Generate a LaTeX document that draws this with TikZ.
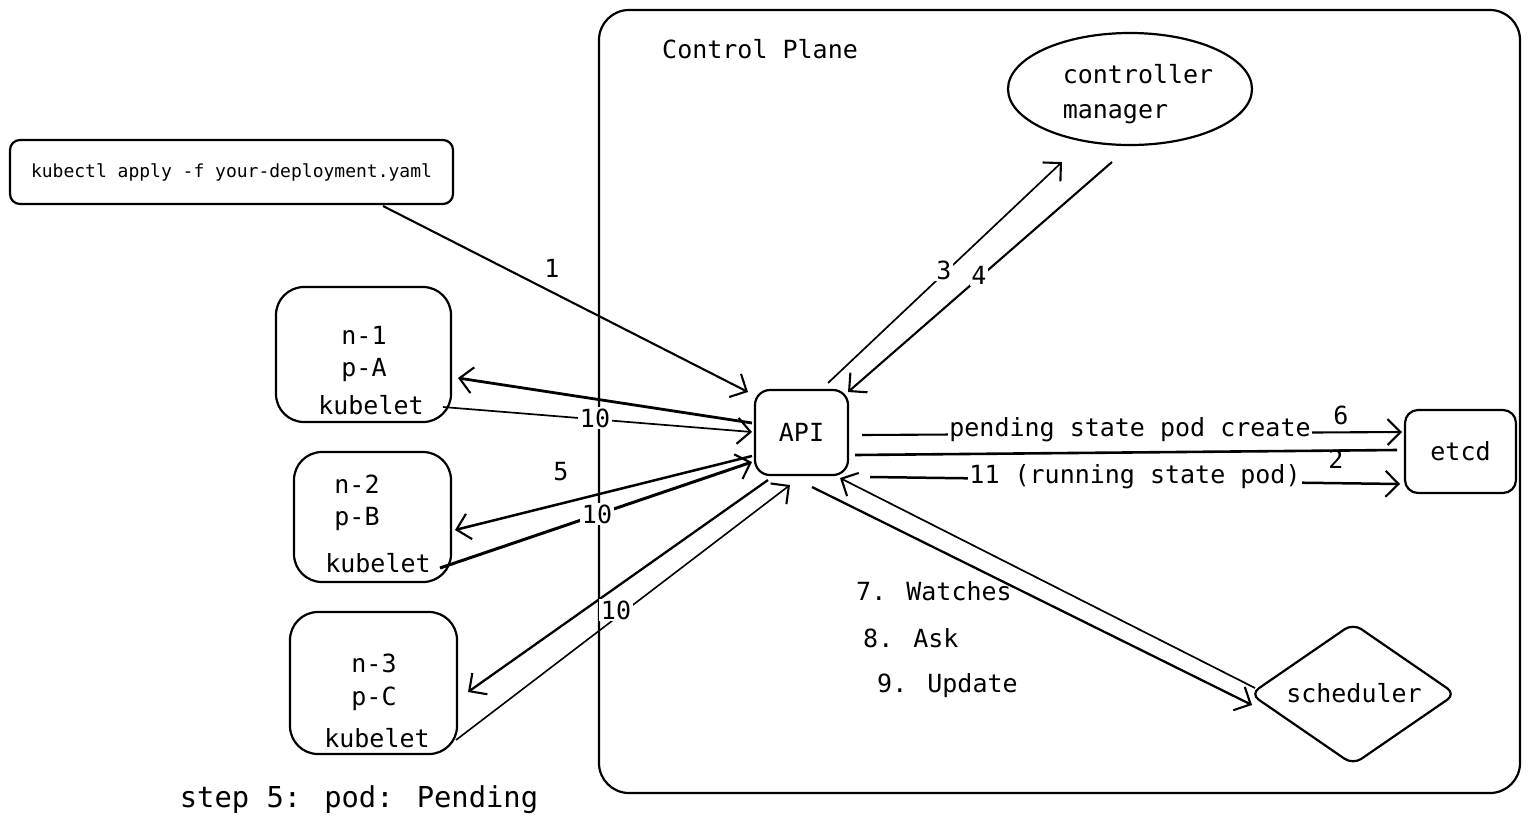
\documentclass[tikz,border=0pt]{standalone}
\usepackage{fontspec}
\setmainfont{DejaVu Sans Mono}
\usetikzlibrary{arrows.meta,shapes.geometric,calc}
\begin{document}
\begin{tikzpicture}[x=1pt,y=-1pt,
  every node/.style={font=\fontsize{25}{35}\selectfont, inner sep=0pt},
  box/.style={draw, line width=2.2pt, rounded corners=28pt},
  smallbox/.style={draw, line width=2.2pt, rounded corners=13pt},
  conn/.style={line width=2.1pt, -{Straight Barb[length=13pt,width=26pt,line width=2.1pt]}},
  link/.style={line width=2.1pt},
  lbl/.style={fill=white, inner sep=1.5pt}]
\useasboundingbox (0,0) rectangle (1530,831);

% control plane frame
\node[box, rounded corners=30pt, minimum width=921pt, minimum height=783pt] (cp) at (1059.5,401.5) {};
\node[anchor=west] (cptitle) at (662,49) {Control Plane};

% nodes
\node[draw, line width=2.2pt, ellipse, minimum width=244pt, minimum height=112pt] (cm) at (1130,89) {};
\node[align=left] (cmt) at (1138,94) {controller\\manager};
\node[smallbox, rounded corners=10pt, minimum width=443pt, minimum height=64pt, font=\fontsize{18}{20}\selectfont] (kubectl) at (231.5,172) {\raisebox{-2pt}{kubectl apply -f your-deployment.yaml}};

\node[box, minimum width=175pt, minimum height=135pt] (n1) at (363.5,354.5) {};
\node (n1a) at (364,335) {n-1};
\node (n1b) at (364,370) {p-A};
\node (n1c) at (371,405) {kubelet};

\node[box, minimum width=157pt, minimum height=130pt] (n2) at (372.5,517) {};
\node (n2a) at (357,484) {n-2};
\node (n2b) at (357,519) {p-B};
\node (n2c) at (378,563) {kubelet};

\node[box, minimum width=167pt, minimum height=142pt] (n3) at (373.5,683) {};
\node (n3a) at (374,663) {n-3};
\node (n3b) at (374,699) {p-C};
\node (n3c) at (377,738) {kubelet};

\node[smallbox, rounded corners=15pt, minimum width=93pt, minimum height=85pt] (api) at (801.5,432.5) {API};
\node[smallbox, minimum width=111pt, minimum height=83pt] (etcd) at (1460.5,451.5) {etcd};
\node[draw, line width=2.2pt, diamond, rounded corners=10pt, minimum width=206pt, minimum height=142pt, aspect=1.45] (sched) at (1353,694) {};
\node (schedt) at (1354,693) {scheduler};

% connectors
\draw[conn] ($(kubectl.center)+(151.5,34)$) -- ($(api.center)+(-53.5,-40.5)$);
\draw[conn, line width=1.7pt] ($(api.center)+(26.5,-49.5)$) -- ($(cm.center)+(-68,73)$);
\draw[conn] ($(cm.center)+(-18,73)$) -- ($(api.center)+(46.5,-40.5)$);

\draw[conn, line width=2.8pt] ($(api.center)+(-49.5,-9.5)$) -- ($(n1.center)+(94.5,23.5)$);
\draw[conn, line width=1.7pt] ($(n1.center)+(79.5,52.5)$) -- ($(api.center)+(-49.5,-0.5)$);
\draw[conn, line width=2.5pt] ($(api.center)+(-49.5,23.5)$) -- ($(n2.center)+(82.5,13)$);
\draw[conn, line width=3pt] ($(n2.center)+(67.5,51)$) -- ($(api.center)+(-49.5,29.5)$);
\draw[conn, line width=2.3pt] ($(api.center)+(-33.5,47.5)$) -- ($(n3.center)+(94.5,9)$);
\draw[conn, line width=1.6pt] ($(n3.center)+(82.5,57)$) -- ($(api.center)+(-11.5,52.5)$);

\draw[conn] ($(api.center)+(60.5,2.5)$) -- ($(etcd.center)+(-58.5,-19.5)$);
\draw[link, line width=2.6pt] ($(api.center)+(53.5,22.5)$) -- ($(etcd.center)+(-63.5,-1.5)$);
\draw[conn, line width=2.5pt] ($(api.center)+(68.5,44.5)$) -- ($(etcd.center)+(-60.5,32.5)$);

\draw[conn, line width=2.3pt] ($(api.center)+(10.5,54.5)$) -- ($(sched.center)+(-101,11)$);
\draw[conn, line width=1.7pt] ($(sched.center)+(-98,-6)$) -- ($(api.center)+(38.5,45.5)$);

% labels
\node (l1) at (552,268) {1};
\node[lbl] (l3) at (944,270) {3};
\node[lbl] (l4) at (979,275) {4};
\node[lbl] (l10a) at (595,418) {10};
\node (l5) at (561,472) {5};
\node[lbl] (l10b) at (597,514) {10};
\node[lbl] (l10c) at (616,610) {10};
\node[lbl] (l6t) at (1130,430) {pending state pod create};
\node (l6) at (1341,415) {6};
\node (l2) at (1336,459) {2};
\node[lbl] (l11) at (1135,477) {11 (running state pod)};

\node[anchor=west] (w7) at (856,591) {7. Watches};
\node[anchor=west] (w8) at (863,638) {8. Ask};
\node[anchor=west] (w9) at (877,686) {9. Update};

\node[font=\fontsize{28.8}{34}\selectfont] (step) at (359,800) {step 5: pod: Pending};
\end{tikzpicture}
\end{document}
